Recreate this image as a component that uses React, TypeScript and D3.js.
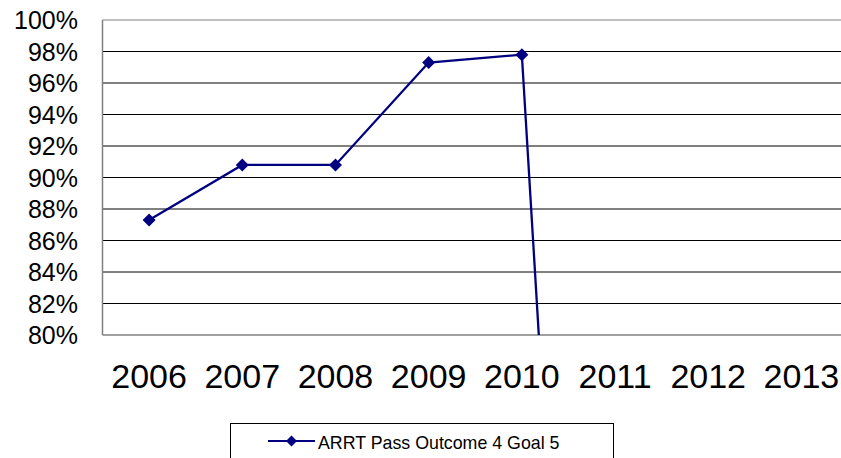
import React from "react";
import * as d3 from "d3";

const categories = ["2006", "2007", "2008", "2009", "2010", "2011", "2012", "2013"];
const values: (number | null)[] = [87.3, 90.8, 90.8, 97.3, 97.8, 0, null, null];
const yTicks = [80, 82, 84, 86, 88, 90, 92, 94, 96, 98, 100];
const seriesName = "ARRT Pass Outcome 4 Goal 5";

export default function App() {
  const W = 841, H = 458;
  const left = 102.5, right = 848, top = 20, bottom = 335;
  const x = d3.scaleBand().domain(categories).range([left, right]).padding(0);
  const y = d3.scaleLinear().domain([80, 100]).range([bottom, top]);
  const cx = (c: string) => (x(c) as number) + x.bandwidth() / 2;
  const pts = categories.map((c, i) => ({ c, v: values[i] })).filter((d) => d.v !== null) as { c: string; v: number }[];
  const line = d3.line<{ c: string; v: number }>().x((d) => cx(d.c)).y((d) => y(d.v));
  const diamond = (px: number, py: number, r: number) => `M${px},${py - r}L${px + r},${py}L${px},${py + r}L${px - r},${py}Z`;
  const font = "'Liberation Sans', Arial, sans-serif";
  const navy = "#000080";
  return (
    <svg width={W} height={H} style={{ position: "absolute", left: 0, top: 0, background: "#fff" }} fontFamily={font}>
      <defs>
        <clipPath id="plot">
          <rect x={left} y={top} width={right - left} height={bottom - top} />
        </clipPath>
      </defs>
      {yTicks.map((t) => (
        <line key={t} x1={left} x2={right} y1={y(t)} y2={y(t)} stroke={t === 100 ? "#808080" : t === 80 ? "#404040" : "#000"} strokeWidth={1} />
      ))}
      <line x1={left} x2={left} y1={top} y2={bottom} stroke="#808080" strokeWidth={1.5} />
      {yTicks.map((t) => (
        <text key={t} x={78} y={y(t)} dy="0.36em" textAnchor="end" fontSize={25} fill="#000">{`${t}%`}</text>
      ))}
      {categories.map((c) => (
        <text key={c} x={cx(c)} y={388} textAnchor="middle" fontSize={34} fill="#000">{c}</text>
      ))}
      <g clipPath="url(#plot)">
        <path d={line(pts) || ""} fill="none" stroke={navy} strokeWidth={2.3} />
        {pts.map((d) => (
          <path key={d.c} d={diamond(cx(d.c), y(d.v), 6.5)} fill={navy} />
        ))}
      </g>
      <rect x={230.5} y={423.5} width={383} height={40} fill="#fff" stroke="#000" strokeWidth={1} />
      <line x1={268} x2={315} y1={441} y2={441} stroke={navy} strokeWidth={2} />
      <path d={diamond(291.5, 441, 5.5)} fill={navy} />
      <text x={318} y={449} fontSize={17.8} fill="#000">{seriesName}</text>
    </svg>
  );
}
